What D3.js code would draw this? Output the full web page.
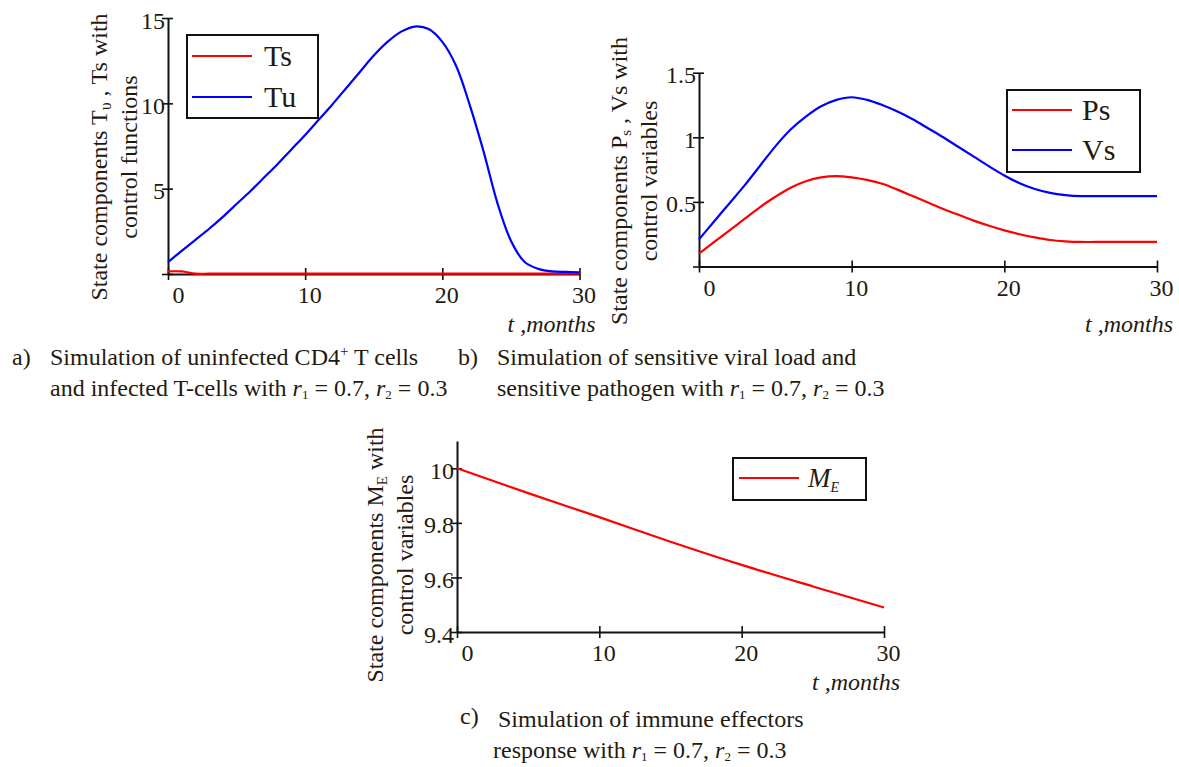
<!DOCTYPE html>
<html><head><meta charset="utf-8">
<script src="https://cdn.jsdelivr.net/npm/d3@7"></script>
<style>
body{margin:0;background:#fff}
text{font-family:"Liberation Serif","Times New Roman",serif;fill:#241a10}
</style></head><body>
<svg id="c" width="1179" height="767"></svg>
<script>
// ---------- data ----------
const tMonths = [0,1,2,3,4,5,6,7,8,9,10,11,12,13,14,15,16,17,18,19,20,21,22,23,24,25,26,27,28,29,30];
const tsValues = [0.15,0.15,0.02,0.02,0.02,0.02,0.02,0.02,0.02,0.02,0.02,0.02,0.02,0.02,0.02,0.02,0.02,0.02,0.02,0.02,0.02,0.02,0.02,0.02,0.02,0.02,0.02,0.02,0.02,0.02,0.02];
const tuValues = [0.7,1.35,2.0,2.65,3.35,4.1,4.85,5.65,6.45,7.3,8.15,9.05,9.95,10.9,11.85,12.8,13.6,14.2,14.5,14.35,13.6,12.2,9.9,7.2,4.2,1.95,0.7,0.3,0.15,0.12,0.1];
const psValues = [0.10,0.19,0.28,0.37,0.46,0.54,0.61,0.66,0.69,0.70,0.69,0.67,0.64,0.595,0.545,0.495,0.445,0.40,0.355,0.315,0.28,0.25,0.225,0.205,0.195,0.19,0.19,0.19,0.19,0.19,0.19];
const vsValues = [0.21,0.35,0.49,0.63,0.78,0.93,1.06,1.16,1.24,1.29,1.31,1.29,1.25,1.20,1.14,1.07,1.0,0.925,0.85,0.775,0.705,0.645,0.60,0.57,0.553,0.545,0.545,0.545,0.545,0.545,0.545];
const meTimes = [0,5,10,15,20,25,30];
const meValues = [10.0,9.909,9.821,9.731,9.646,9.567,9.49];

const xTicks = [0,10,20,30];
const xTickLabels = ["0","10","20","30"];
const aYTicks = [0,5,10,15];
const aYTickLabels = ["","5","10","15"];
const bYTicks = [0,0.5,1,1.5];
const bYTickLabels = ["","0.5","1","1.5"];
const cYTicks = [9.4,9.6,9.8,10];
const cYTickLabels = ["9.4","9.6","9.8","10"];

// ---------- drawing ----------
const svg = d3.select("#c");
const RED = "#ff0000", BLUE = "#0000ff";
const FS = 24;

function segText(sel, segs){
  segs.forEach(s=>{
    const t = sel.append("tspan").text(s.t);
    if(s.italic) t.style("font-style","italic");
    if(s.size) t.style("font-size", s.size+"px");
    if(s.dy!==undefined) t.attr("dy", s.dy);
  });
}

function drawPanel(p){
  const xs = d3.scaleLinear().domain([0,30]).range(p.xr);
  const ys = d3.scaleLinear().domain(p.yDom).range(p.yr);
  const g = svg.append("g");

  const xa = g.append("g").attr("transform",`translate(0,${ys(p.yDom[0])})`)
    .call(d3.axisBottom(xs).tickValues(xTicks).tickSize(0).tickSizeOuter(0)
      .tickFormat((d,i)=>xTickLabels[i]));
  const ya = g.append("g").attr("transform",`translate(${xs(0)},0)`)
    .call(d3.axisLeft(ys).tickValues(p.yTicks).tickSize(0).tickSizeOuter(0)
      .tickFormat((d,i)=>p.yLabels[i]));
  [xa,ya].forEach(a=>{
    a.attr("font-family",null).attr("font-size",null);
    a.select(".domain").attr("stroke","#111").attr("stroke-width",2);
    a.selectAll(".tick text").attr("fill","#241a10").style("font-size",FS+"px");
  });
  xa.selectAll(".tick line").attr("stroke","#111").attr("stroke-width",1.6).attr("y1",-6).attr("y2",6);
  xa.selectAll(".tick text").attr("y",12).attr("dx",(d,i)=> i===0 ? 10 : 4);
  ya.selectAll(".tick text").attr("x",-3).attr("dy","0.42em");
  ya.selectAll(".tick line").attr("stroke","#111").attr("stroke-width",1.6).attr("x1",-6).attr("x2",5);

  p.series.forEach(s=>{
    const line = d3.line().x((d,i)=>xs(s.t[i])).y(d=>ys(d)).curve(d3.curveCatmullRom.alpha(0.5));
    g.append("path").datum(s.v).attr("d",line).attr("fill","none")
      .attr("stroke",s.color).attr("stroke-width",2.2);
  });

  const L = p.legend;
  g.append("rect").attr("x",L.x).attr("y",L.y).attr("width",L.w).attr("height",L.h)
    .attr("fill","#fff").attr("stroke","#111").attr("stroke-width",2);
  L.items.forEach(it=>{
    g.append("line").attr("x1",L.lx1).attr("x2",L.lx2).attr("y1",it.y).attr("y2",it.y)
      .attr("stroke",it.color).attr("stroke-width",2);
    const t = g.append("text").attr("x",L.tx).attr("y",it.y+L.tdy).style("font-size",L.fs+"px");
    segText(t, it.segs);
  });

  g.append("text").attr("x",xs(30)+16).attr("y",p.xTitleY)
    .attr("text-anchor","end").style("font-size",FS+"px").style("font-style","italic")
    .text("t ,months");

  p.yTitle.forEach(line=>{
    const t = g.append("text").attr("text-anchor","middle")
      .attr("transform",`translate(${line.x},${p.yTitleC}) rotate(-90)`).style("font-size",FS+"px");
    segText(t, line.segs);
  });
}

drawPanel({
  xr:[168,579.5], yr:[274,18], yDom:[0,15], yTicks:aYTicks, yLabels:aYTickLabels,
  series:[{t:tMonths,v:tsValues,color:RED},{t:tMonths,v:tuValues,color:BLUE}],
  legend:{x:187,y:35,w:131,h:83,lx1:192,lx2:252,tx:264,tdy:10,fs:30,
    items:[{y:56,color:RED,segs:[{t:"Ts"}]},{y:97,color:BLUE,segs:[{t:"Tu"}]}]},
  xTitleY:332, yTitleC:157,
  yTitle:[
    {x:107,segs:[{t:"State components T"},{t:"υ",size:16,dy:4},{t:" , Ts with",dy:-4}]},
    {x:137,segs:[{t:"control functions"}]}
  ]
});

drawPanel({
  xr:[699,1157], yr:[266.5,72.7], yDom:[0,1.5], yTicks:bYTicks, yLabels:bYTickLabels,
  series:[{t:tMonths,v:psValues,color:RED},{t:tMonths,v:vsValues,color:BLUE}],
  legend:{x:1007,y:90,w:133,h:82,lx1:1012,lx2:1072,tx:1082,tdy:10,fs:30,
    items:[{y:110,color:RED,segs:[{t:"Ps"}]},{y:150,color:BLUE,segs:[{t:"Vs"}]}]},
  xTitleY:332, yTitleC:181,
  yTitle:[
    {x:627,segs:[{t:"State components P"},{t:"s",size:15,dy:4},{t:" , Vs with",dy:-4}]},
    {x:657,segs:[{t:"control variables"}]}
  ]
});

drawPanel({
  xr:[457,884], yr:[632,441], yDom:[9.4,10.1], yTicks:cYTicks, yLabels:cYTickLabels,
  series:[{t:meTimes,v:meValues,color:RED}],
  legend:{x:733,y:458,w:133,h:42,lx1:739,lx2:799,tx:808,tdy:9,fs:27,
    items:[{y:478,color:RED,segs:[{t:"M",italic:true},{t:"E",italic:true,size:14,dy:5}]}]},
  xTitleY:690, yTitleC:555,
  yTitle:[
    {x:383,segs:[{t:"State components M"},{t:"E",size:15,dy:4},{t:" with",dy:-4}]},
    {x:413,segs:[{t:"control variables"}]}
  ]
});

// ---------- captions ----------
function caption(x,y,segs){
  const t = svg.append("text").attr("x",x).attr("y",y).style("font-size",FS+"px");
  segText(t, segs);
}
const rEq = [{t:"r",italic:true},{t:"1",size:13,dy:3},{t:" = 0.7, ",dy:-3},
             {t:"r",italic:true},{t:"2",size:13,dy:3},{t:" = 0.3",dy:-3}];
caption(12,365,[{t:"a)"}]);
caption(50,365,[{t:"Simulation of uninfected CD4"},{t:"+",size:15,dy:-9},{t:" T cells",dy:9}]);
caption(50,396,[{t:"and infected T-cells with "}].concat(rEq));
caption(458,365,[{t:"b)"}]);
caption(497,365,[{t:"Simulation of sensitive viral load and"}]);
caption(497,396,[{t:"sensitive pathogen with "}].concat(rEq));
caption(460,724,[{t:"c)"}]);
caption(498,727,[{t:"Simulation of immune effectors"}]);
caption(493,758,[{t:"response with "}].concat(rEq));
</script>
</body></html>
